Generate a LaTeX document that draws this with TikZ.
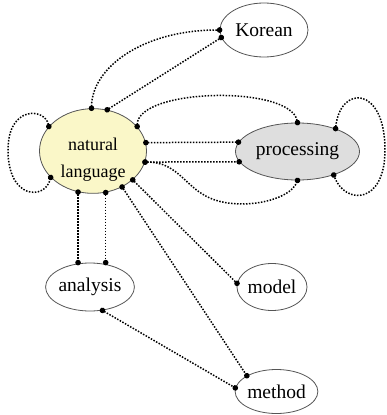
\documentclass[tikz,border=0pt]{standalone}
\usepackage{fontspec}
\setmainfont{Liberation Serif}
\usetikzlibrary{shapes.geometric,arrows.meta}
\definecolor{nlfill}{RGB}{250,247,200}
\definecolor{prfill}{RGB}{222,222,222}
\definecolor{bord}{RGB}{85,85,85}
\tikzset{
  ell/.style={ellipse, draw=bord, line width=0.8pt, inner sep=0pt, font=\rmfamily\fontsize{19.5}{22}\selectfont},
  conn/.style={draw=black, line width=1.5pt, dash pattern=on 1.5pt off 1.5pt,
    {Circle[length=5.5pt]}-{Circle[length=5.5pt]}, shorten <=-2.75pt, shorten >=-2.75pt}
}
\begin{document}
\begin{tikzpicture}[x=1pt,y=-1pt]
\useasboundingbox (0,0) rectangle (386,415);
\node[ell, fill=nlfill, minimum width=107pt, minimum height=62pt, align=center,
  font=\rmfamily\fontsize{18}{27}\selectfont] (nl) at (93,151) {\rule{0pt}{29pt}natural\\language};
\node[ell, fill=prfill, minimum width=124pt, minimum height=57pt] (pr) at (297.5,151.5) {processing};
\node[ell, fill=white, minimum width=88pt, minimum height=54pt] (ko) at (264,30) {Korean};
\node[ell, fill=white, minimum width=82pt, minimum height=48pt] (an) at (90,287) {analysis};
\node[ell, fill=white, minimum width=70pt, minimum height=47pt] (mo) at (272,287) {model};
\node[ell, fill=white, minimum width=80pt, minimum height=44pt] (me) at (276.5,391.5) {method};

% self loops
\draw[conn] (nl.151) .. controls (45,108) and (8,105) .. (8,150) .. controls (8,200) and (45,200) .. (nl.212);
\draw[conn] (pr.31.4) .. controls (340,85) and (385,85) .. (385,150) .. controls (385,205) and (345,205) .. (pr.327.4);
% to Korean
\draw[conn] (nl.92) .. controls (92,68) and (142,30) .. (ko.180);
\draw[conn] (nl.71.6) -- (ko.190.6);
% to processing
\draw[conn] (nl.29.6) .. controls (138,88) and (290,85) .. (pr.90);
\draw[conn] (nl.9.4) -- (pr.171.9);
\draw[conn] (nl.348) -- (pr.190);
\draw[conn] (nl.348) .. controls (180,162) and (185,190) .. (215,200) .. controls (245,210) and (290,200) .. (pr.270);
% to analysis
\draw[conn] (nl.250) -- (nl.250 |- an.north);
\draw[conn] (nl.287.6) -- (nl.287.6 |- an.north);
% others
\draw[conn] (nl.309) -- (me.152);
\draw[conn] (nl.324) -- (mo.174);
\draw[conn] (an.298) -- (me.175);
\end{tikzpicture}
\end{document}
